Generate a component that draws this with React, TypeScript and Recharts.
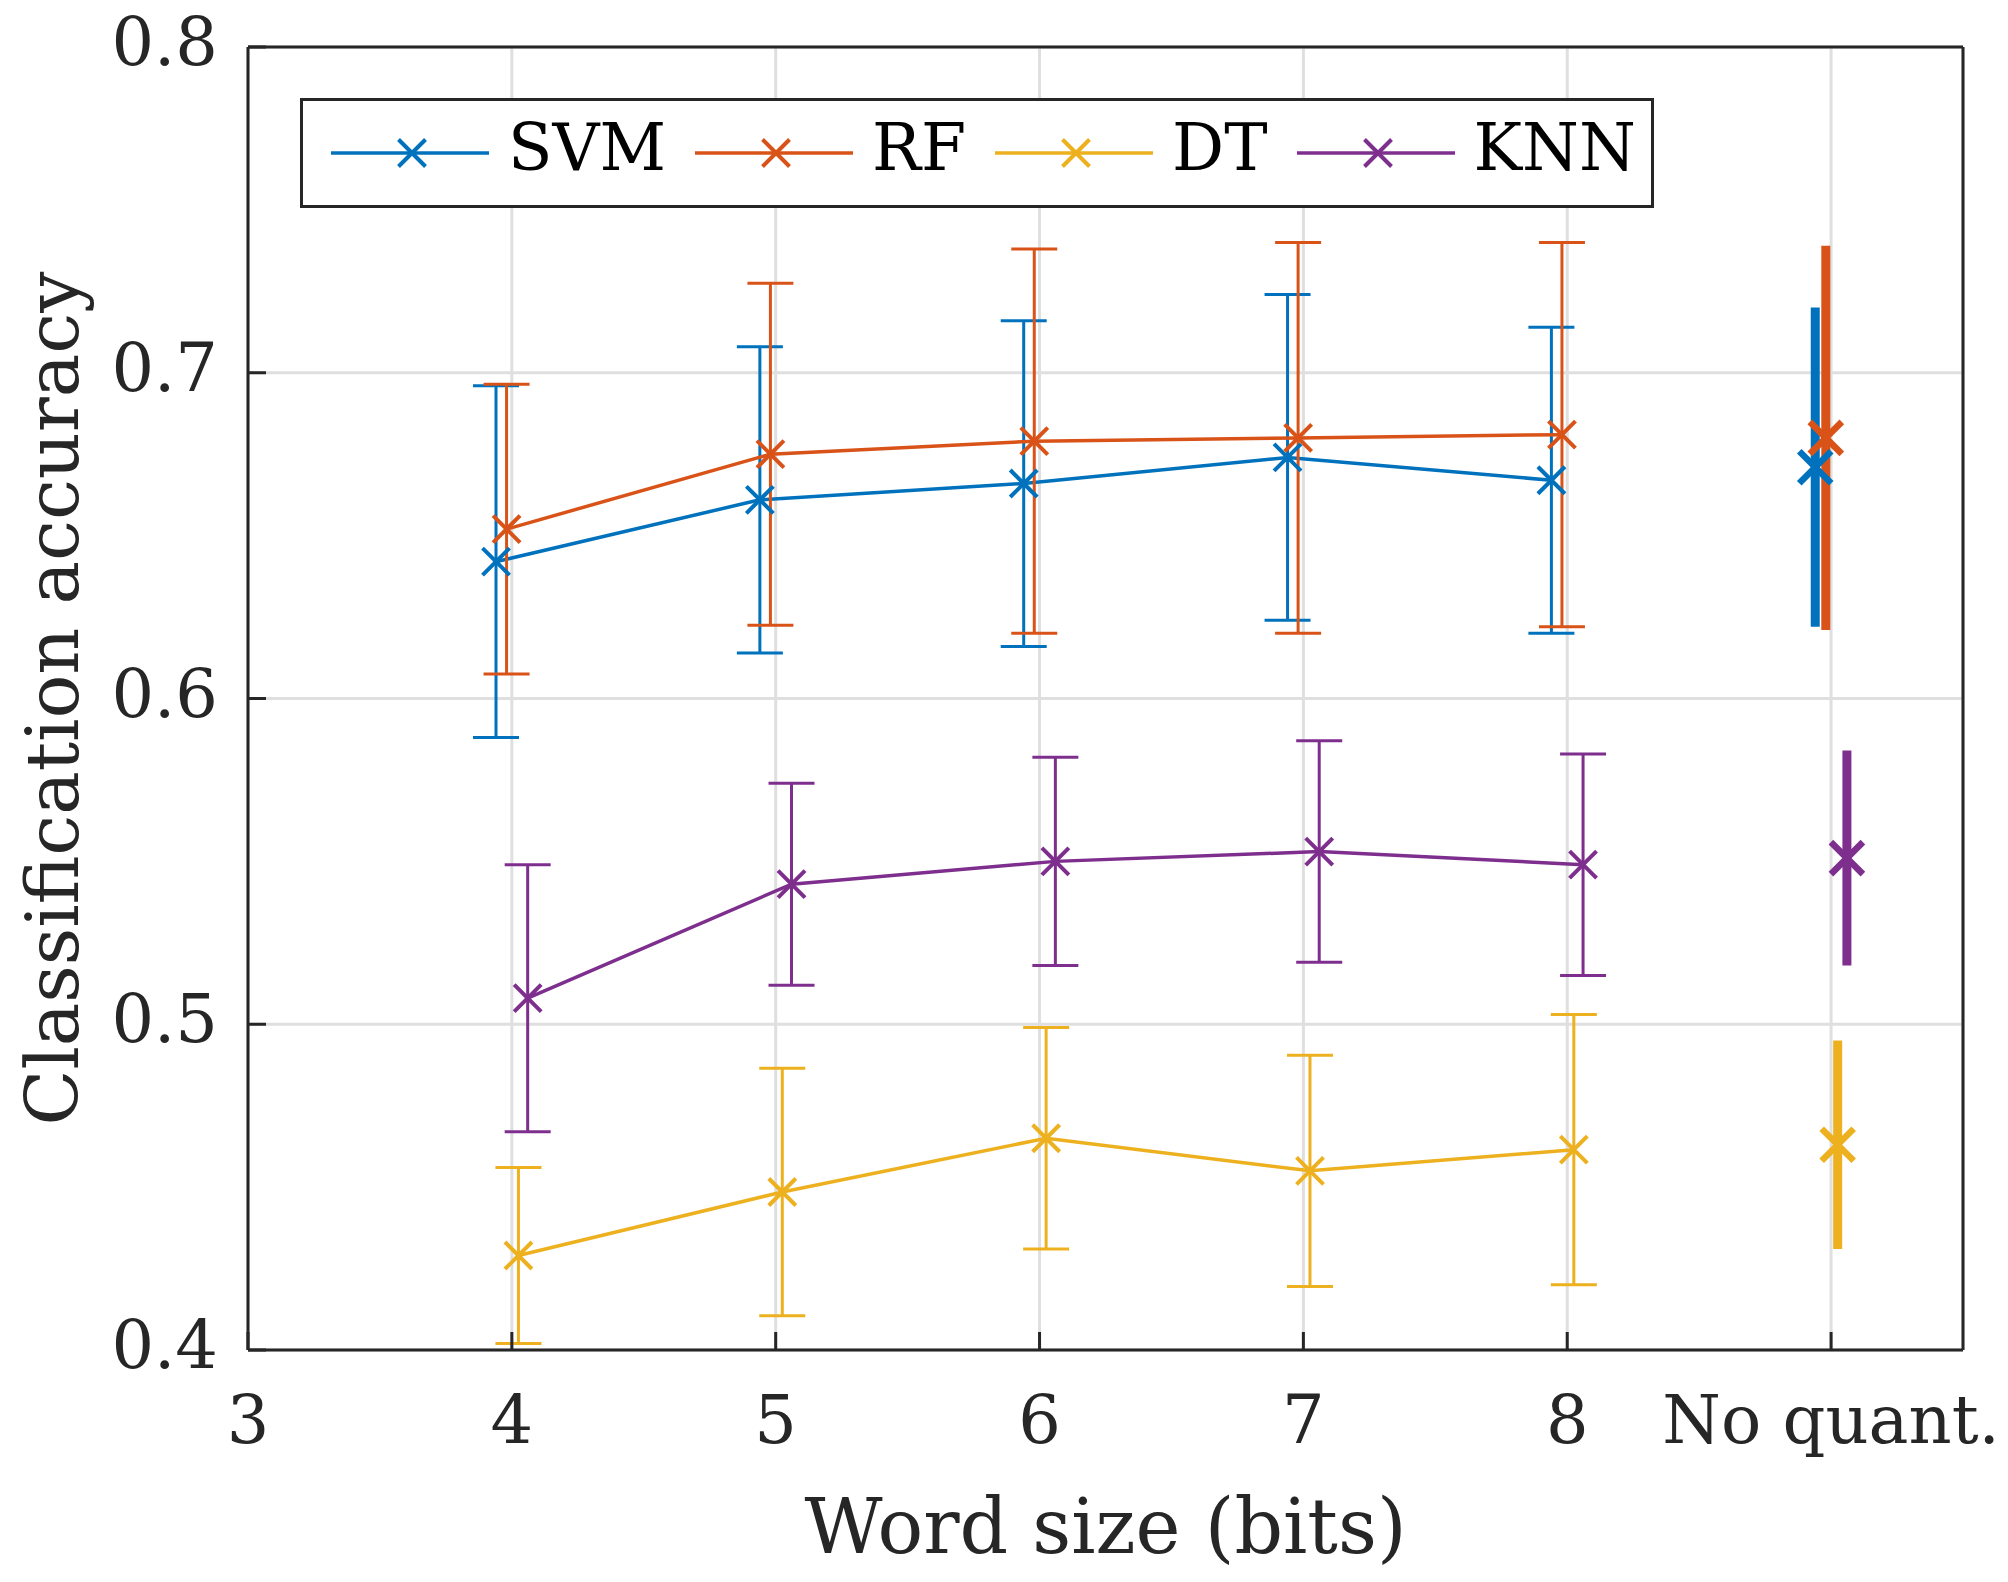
import React from 'react';
import {
  ComposedChart,
  Line,
  Scatter,
  XAxis,
  YAxis,
  CartesianGrid,
  ErrorBar,
  Legend,
} from 'recharts';

// ---------------- data ----------------
const wordSizes = [4, 5, 6, 7, 8];
const noQuantPosition = 9;
const xTicks = [3, 4, 5, 6, 7, 8, 9];
const xTickLabels = ['3', '4', '5', '6', '7', '8', 'No quant.'];
const yTicks = [0.4, 0.5, 0.6, 0.7, 0.8];
const yTickLabels = ['0.4', '0.5', '0.6', '0.7', '0.8'];

const seriesNames = ['SVM', 'RF', 'DT', 'KNN'];

const svmMean = [0.642, 0.661, 0.666, 0.674, 0.667];
const svmStd = [0.054, 0.047, 0.05, 0.05, 0.047];
const svmNoQuant = [0.671, 0.049];

const rfMean = [0.652, 0.675, 0.679, 0.68, 0.681];
const rfStd = [0.0445, 0.0525, 0.059, 0.06, 0.059];
const rfNoQuant = [0.68, 0.059];

const dtMean = [0.429, 0.4485, 0.465, 0.455, 0.4615];
const dtStd = [0.027, 0.038, 0.034, 0.0355, 0.0415];
const dtNoQuant = [0.463, 0.032];

const knnMean = [0.508, 0.543, 0.55, 0.553, 0.549];
const knnStd = [0.041, 0.031, 0.032, 0.034, 0.034];
const knnNoQuant = [0.551, 0.033];

// ---------------- styles ----------------
const COLORS = ['#0072BD', '#D95319', '#EDB120', '#7E2F8E'];
const X_SHIFT = [-0.06, -0.02, 0.025, 0.06];
const FONT = "'DejaVu Serif', serif";
const AXIS_COLOR = '#262626';

const means = [svmMean, rfMean, dtMean, knnMean];
const stds = [svmStd, rfStd, dtStd, knnStd];
const noQuants = [svmNoQuant, rfNoQuant, dtNoQuant, knnNoQuant];

const series = seriesNames.map((name, k) => ({
  name,
  color: COLORS[k],
  data: wordSizes.map((w, i) => ({ x: w + X_SHIFT[k], y: means[k][i], e: stds[k][i] })),
  nq: [{ x: noQuantPosition + X_SHIFT[k], y: noQuants[k][0], e: noQuants[k][1] }],
}));

const XMark = ({ cx, cy, color, r, w }: any) => {
  if (cx == null || cy == null) return null;
  return (
    <path
      d={`M${cx - r},${cy - r}L${cx + r},${cy + r}M${cx - r},${cy + r}L${cx + r},${cy - r}`}
      stroke={color}
      strokeWidth={w}
      fill="none"
    />
  );
};

const XTick = (props: any) => {
  const { x, y, payload } = props;
  const idx = xTicks.indexOf(payload.value);
  return (
    <text x={x} y={y} dy={93} textAnchor="middle" fontFamily={FONT} fontSize={67} fill={AXIS_COLOR}>
      {idx >= 0 ? xTickLabels[idx] : payload.value}
    </text>
  );
};

const YTick = (props: any) => {
  const { x, y, payload } = props;
  const idx = yTicks.findIndex((t) => Math.abs(t - payload.value) < 1e-9);
  return (
    <text x={x} y={y} dy={18} textAnchor="end" fontFamily={FONT} fontSize={67} fill={AXIS_COLOR}>
      {idx >= 0 ? yTickLabels[idx] : payload.value}
    </text>
  );
};

const XTitle = (props: any) => {
  const vb = props.viewBox || props;
  const cx = vb.x + vb.width / 2;
  return (
    <text x={cx} y={vb.y + 203} textAnchor="middle" fontFamily={FONT} fontSize={76} fill={AXIS_COLOR}>
      Word size (bits)
    </text>
  );
};

const YTitle = (props: any) => {
  const vb = props.viewBox || props;
  const bx = vb.x + 30;
  const cy = vb.y + vb.height / 2;
  return (
    <text
      x={bx}
      y={cy}
      textAnchor="middle"
      transform={`rotate(-90, ${bx}, ${cy})`}
      fontFamily={FONT}
      fontSize={73}
      fill={AXIS_COLOR}
    >
      Classification accuracy
    </text>
  );
};

const LegendBox = (props: any) => {
  const payload = (props.payload || [])
    .filter((p: any) => p.type !== 'none' && seriesNames.includes(p.value))
    .slice()
    .sort((a: any, b: any) => seriesNames.indexOf(a.value) - seriesNames.indexOf(b.value));
  return (
    <div
      style={{
        display: 'inline-flex',
        alignItems: 'flex-start',
        height: 110,
        boxSizing: 'border-box',
        border: `3px solid ${AXIS_COLOR}`,
        background: '#fff',
        paddingLeft: 28,
        paddingRight: 15,
        fontFamily: FONT,
      }}
    >
      {payload.map((it: any, i: number) => {
        const color = COLORS[seriesNames.indexOf(it.value)];
        return (
          <div key={it.value} style={{ display: 'flex', alignItems: 'flex-start', marginLeft: i ? 29 : 0 }}>
            <svg width={158} height={104} style={{ display: 'block' }}>
              <line x1={0} x2={158} y1={52} y2={52} stroke={color} strokeWidth={3.5} />
              <XMark cx={81} cy={52} r={13.5} w={4} color={color} />
            </svg>
            <span
              style={{
                marginLeft: 19,
                fontSize: 65,
                lineHeight: '104px',
                position: 'relative',
                top: -5,
                color: '#000',
                whiteSpace: 'nowrap',
              }}
            >
              {it.value}
            </span>
          </div>
        );
      })}
    </div>
  );
};

export default function App() {
  return (
    <div style={{ position: 'absolute', left: 0, top: 0, background: '#fff' }}>
      <ComposedChart width={2008} height={1582} margin={{ top: 42, right: 40, bottom: 0, left: 48 }}>
        <CartesianGrid stroke="#dfdfdf" strokeWidth={3} />
        <XAxis
          type="number"
          dataKey="x"
          domain={[3, 9.5]}
          ticks={xTicks}
          interval={0}
          allowDataOverflow
          height={232}
          tickSize={-18}
          tickMargin={18}
          axisLine={{ stroke: AXIS_COLOR, strokeWidth: 3 }}
          tickLine={{ stroke: AXIS_COLOR, strokeWidth: 3 }}
          tick={<XTick />}
          label={<XTitle />}
        />
        <XAxis
          xAxisId="top"
          orientation="top"
          type="number"
          domain={[3, 9.5]}
          ticks={xTicks}
          interval={0}
          allowDataOverflow
          height={5}
          tickSize={-18}
          axisLine={{ stroke: AXIS_COLOR, strokeWidth: 3 }}
          tickLine={{ stroke: AXIS_COLOR, strokeWidth: 3 }}
          tick={false}
        />
        <YAxis
          type="number"
          domain={[0.4, 0.8]}
          ticks={yTicks}
          interval={0}
          allowDataOverflow
          width={200}
          tickSize={-18}
          tickMargin={48}
          axisLine={{ stroke: AXIS_COLOR, strokeWidth: 3 }}
          tickLine={{ stroke: AXIS_COLOR, strokeWidth: 3 }}
          tick={<YTick />}
          label={<YTitle />}
        />
        <YAxis
          yAxisId="right"
          orientation="right"
          type="number"
          domain={[0.4, 0.8]}
          ticks={yTicks}
          interval={0}
          allowDataOverflow
          width={5}
          tickSize={-18}
          axisLine={{ stroke: AXIS_COLOR, strokeWidth: 3 }}
          tickLine={{ stroke: AXIS_COLOR, strokeWidth: 3 }}
          tick={false}
        />
        <Legend
          layout="vertical"
          align="center"
          verticalAlign="middle"
          wrapperStyle={{ left: 300, top: 98, width: 'auto', height: 'auto' }}
          content={<LegendBox />}
        />
        {series.map((s) => (
          <Line
            key={s.name}
            name={s.name}
            data={s.data}
            dataKey="y"
            type="linear"
            stroke={s.color}
            strokeWidth={3.5}
            isAnimationActive={false}
            activeDot={false}
            dot={(p: any) => <XMark key={`${s.name}-${p.index}`} cx={p.cx} cy={p.cy} r={13.5} w={4} color={s.color} />}
          >
            <ErrorBar dataKey="e" direction="y" width={23} strokeWidth={3} stroke={s.color} isAnimationActive={false} />
          </Line>
        ))}
        {series.map((s) => (
          <Scatter
            key={`${s.name}-nq`}
            name={`${s.name} (no quant.)`}
            data={s.nq}
            dataKey="y"
            fill={s.color}
            legendType="none"
            isAnimationActive={false}
            shape={(p: any) => <XMark cx={p.cx} cy={p.cy} r={16} w={6.5} color={s.color} />}
          >
            <ErrorBar dataKey="e" direction="y" width={0} strokeWidth={9} stroke={s.color} isAnimationActive={false} />
          </Scatter>
        ))}
      </ComposedChart>
    </div>
  );
}
